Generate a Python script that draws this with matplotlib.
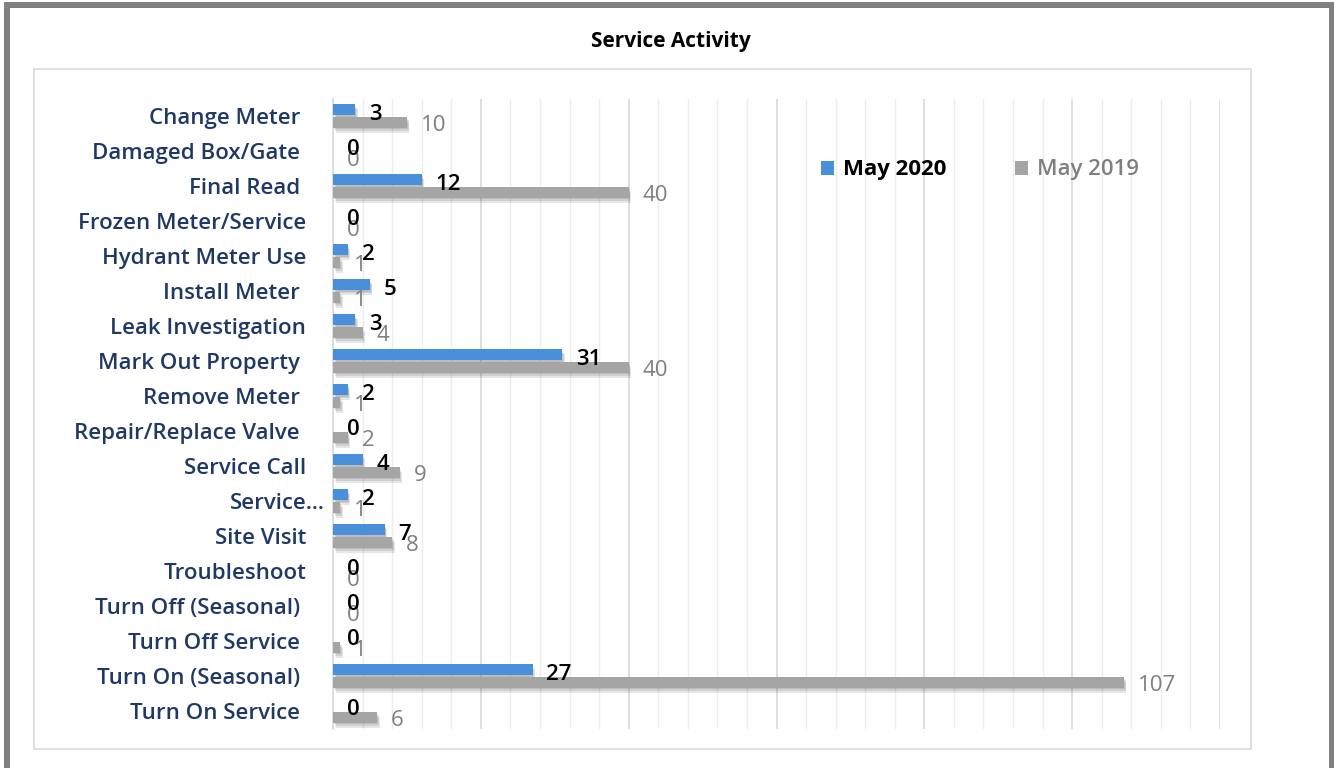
"""
Service Activity chart: May 2020 vs May 2019 work orders by category.
"""
import matplotlib
matplotlib.use('Agg')
import matplotlib.pyplot as plt
import matplotlib.patheffects as pe
from matplotlib.patches import Rectangle
from matplotlib.ticker import MultipleLocator
import numpy as np

# ---------- data ----------
categories = [
    'Change Meter ', 'Damaged Box/Gate ', 'Final Read ', 'Frozen Meter/Service',
    'Hydrant Meter Use', 'Install Meter ', 'Leak Investigation', 'Mark Out Property ',
    'Remove Meter ', 'Repair/Replace Valve ', 'Service Call', 'Service…',
    'Site Visit', 'Troubleshoot', 'Turn Off (Seasonal) ', 'Turn Off Service ',
    'Turn On (Seasonal) ', 'Turn On Service ',
]
may_2020 = [3, 0, 12, 0, 2, 5, 3, 31, 2, 0, 4, 2, 7, 0, 0, 0, 27, 0]
may_2019 = [10, 0, 40, 0, 1, 1, 4, 40, 1, 2, 9, 1, 8, 0, 0, 1, 107, 6]
series_names = ['May 2020', 'May 2019']

# ---------- style ----------
W, H = 1334, 768
BLUE = '#4A8FD9'
GREY = '#A5A5A5'
LABEL_GREY = '#7F7F7F'
NAVY = '#1F3864'
FONT = ['Open Sans', 'DejaVu Sans']

plt.rcParams['font.family'] = FONT


def px(x, y):
    """pixel position (from top-left) -> figure fraction"""
    return x / W, 1 - y / H


fig = plt.figure(figsize=(W / 100, H / 100), dpi=100)

# outer border and chart-area frame
fig.add_artist(Rectangle(px(7, 790), 1325 / W, 785 / H, transform=fig.transFigure,
                         fill=False, edgecolor='#808080', linewidth=4.3))
fig.add_artist(Rectangle(px(34, 749), 1217 / W, 680 / H, transform=fig.transFigure,
                         fill=False, edgecolor='#D9D9D9', linewidth=1.2))

fig.text(px(671, 0)[0], px(0, 42)[1], 'Service Activity', ha='center', va='center',
         fontsize=15, fontweight='bold', color='black')

left, top = px(333, 98.5)
right, bottom = px(1220, 728.5)
ax = fig.add_axes([left, bottom, right - left, top - bottom])

y = np.arange(len(categories))
bar_h = 0.31
off = 0.18
# soft drop shadow built from a few faint offset copies
shadow = [pe.SimplePatchShadow(offset=(0.6 * k, -1.2 * k), shadow_rgbFace='#404040',
                               alpha=0.13) for k in (3, 2, 1)] + [pe.Normal()]

bars_new = ax.barh(y - off, may_2020, height=bar_h, color=BLUE, label=series_names[0],
                   zorder=3)
bars_old = ax.barh(y + off, may_2019, height=bar_h, color=GREY, label=series_names[1],
                   zorder=3)
for b in list(bars_new) + list(bars_old):
    b.set_path_effects(shadow)

# value labels
for yi, v in zip(y, may_2020):
    ax.annotate(f'{v}', (v, yi - off), xytext=(10, -3.5), textcoords='offset points',
                ha='left', va='center', fontsize=16, fontweight='semibold',
                color='black', zorder=5)
for yi, v in zip(y, may_2019):
    ax.annotate(f'{v}', (v, yi + off), xytext=(10, -2.5), textcoords='offset points',
                ha='left', va='center', fontsize=16, color=LABEL_GREY, zorder=4)

ax.set_xlim(0, 120)
ax.set_ylim(len(categories) - 0.5, -0.5)

# gridlines: minor every 4, major every 20
ax.xaxis.set_major_locator(MultipleLocator(20))
ax.xaxis.set_minor_locator(MultipleLocator(4))
ax.grid(True, which='major', axis='x', color='#D9D9D9', linewidth=1.2, zorder=0)
ax.grid(True, which='minor', axis='x', color='#EDEDED', linewidth=1.0, zorder=0)
ax.set_axisbelow(True)
ax.tick_params(axis='both', which='both', length=0, labelbottom=False, labelleft=False)
for s in ['top', 'right', 'bottom']:
    ax.spines[s].set_visible(False)
ax.spines['left'].set_color('#D9D9D9')
ax.spines['left'].set_linewidth(1.2)

# category labels, right-aligned beside the axis
for yi, name in zip(y, categories):
    x_edge = 306
    if name.endswith(' '):
        x_edge = 300
    if name.endswith('…'):
        x_edge = 325
    ax.text((x_edge - 333) / (1220 - 333), yi + 0.08, name.strip(),
            transform=ax.get_yaxis_transform(),
            ha='right', va='center', fontsize=16, fontweight='semibold', color=NAVY)

leg = ax.legend(loc='center', bbox_to_anchor=(px(980, 0)[0], px(0, 170)[1]),
                bbox_transform=fig.transFigure, ncol=2, frameon=False, fontsize=16,
                handlelength=0.58, handleheight=0.58, handletextpad=0.4,
                columnspacing=3.1)
for h in leg.legend_handles:
    h.set_path_effects([])
for txt, col, wt in zip(leg.get_texts(), ['black', LABEL_GREY], ['bold', 'semibold']):
    txt.set_color(col)
    txt.set_fontweight(wt)

fig.savefig('out.png', dpi=100)
